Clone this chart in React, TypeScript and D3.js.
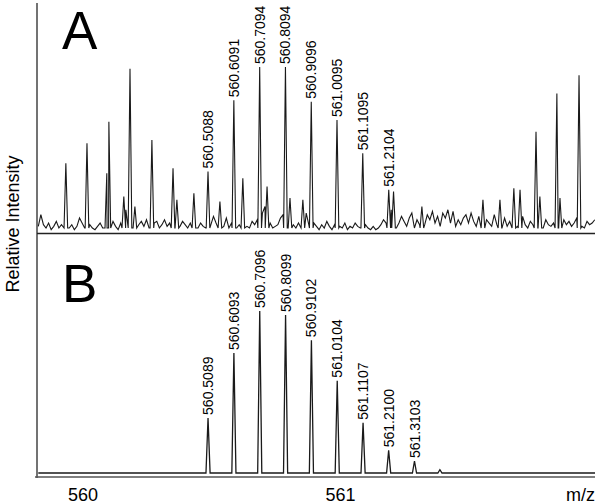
import React from 'react';
import * as d3 from 'd3';

// panel A: measured spectrum, labelled isotope peaks
const labelMzA = [560.5088, 560.6091, 560.7094, 560.8094, 560.9096, 561.0095, 561.1095, 561.2104];
const labelIntA = [37, 80, 100, 100, 79, 68, 48, 26];

// panel A: other (unlabelled) peaks
const otherMzA = [559.957, 560.039, 560.116, 560.124, 560.182, 560.206, 560.225, 560.291, 560.373, 560.388,
  560.454, 560.555, 560.644, 560.738, 560.827, 560.877, 561.229, 561.339, 561.576, 561.642,
  561.696, 561.72, 561.782, 561.797, 561.863, 561.875, 561.949];
const otherIntA = [42, 54, 36, 67, 22, 99, 16, 56, 39, 20,
  24, 19, 33, 28, 21, 20, 25, 16, 20, 20,
  27, 26, 61, 22, 84, 21, 95];

// panel A: baseline noise, one value per 0.01 m/z from 559.85
const noiseStart = 559.85;
const noiseStep = 0.01;
const noiseA = [
  4, 11, 5, 3, 6, 2, 4, 7, 3, 5,
  6, 8, 3, 5, 2, 4, 9, 6, 3, 10,
  5, 3, 2, 4, 6, 3, 5, 18, 22, 7,
  4, 2, 6, 5, 14, 12, 8, 6, 15, 5,
  7, 4, 8, 3, 9, 6, 7, 3, 5, 8,
  4, 6, 3, 12, 6, 4, 7, 5, 3, 6,
  4, 8, 3, 6, 4, 3, 8, 5, 10, 6,
  12, 7, 4, 9, 3, 6, 4, 3, 5, 9,
  6, 4, 3, 7, 5, 8, 4, 12, 16, 8,
  6, 3, 4, 5, 9, 11, 6, 14, 8, 5,
  3, 6, 4, 7, 12, 5, 3, 6, 4, 2,
  5, 3, 7, 4, 2, 5, 8, 4, 3, 6,
  2, 4, 3, 6, 4, 3, 10, 5, 3, 2,
  4, 2, 3, 5, 8, 6, 12, 14, 5, 3,
  6, 10, 7, 4, 9, 12, 3, 8, 5, 16,
  5, 11, 8, 13, 6, 10, 4, 12, 9, 14,
  6, 13, 4, 8, 5, 9, 11, 6, 12, 7,
  4, 10, 5, 3, 8, 6, 4, 11, 5, 14,
  3, 9, 4, 7, 12, 6, 4, 8, 10, 5,
  3, 7, 5, 4, 9, 6, 3, 8, 5, 4,
  6, 10, 4, 3, 8, 5, 7, 4, 6, 9,
  12, 4, 3, 7, 5, 6, 8,
];

// panel B: theoretical isotope pattern
const mzB = [560.5089, 560.6093, 560.7096, 560.8099, 560.9102, 561.0104, 561.1107, 561.21, 561.3103, 561.409];
const intB = [34, 74, 100, 97.5, 82, 57, 31, 14, 7.4, 2];
const labelB = ['560.5089', '560.6093', '560.7096', '560.8099', '560.9102', '561.0104', '561.1107', '561.2100', '561.3103', ''];

const xTicks = [560, 561];

const font = 'Liberation Sans, Arial, sans-serif';

const App = () => {
  const x = d3.scaleLinear().domain([559.845, 562.011]).range([37, 595]);
  const yA = d3.scaleLinear().domain([0, 100]).range([233, 67]);
  const yB = d3.scaleLinear().domain([0, 100]).range([473, 311]);
  const hw = 0.007;

  // build trace for A
  const peaksA = labelMzA.map((m, i) => [m, labelIntA[i]]).concat(otherMzA.map((m, i) => [m, otherIntA[i]]));
  const ptsA: number[][] = [];
  noiseA.forEach((v, i) => {
    const m = noiseStart + i * noiseStep;
    if (!peaksA.some(p => Math.abs(p[0] - m) < hw)) ptsA.push([m, v]);
  });
  peaksA.forEach(p => {
    ptsA.push([p[0] - hw, 3]);
    ptsA.push([p[0], p[1]]);
    ptsA.push([p[0] + hw, 3]);
  });
  ptsA.sort((a, b) => a[0] - b[0]);

  const ptsB: number[][] = [[559.85, 0]];
  mzB.forEach((m, i) => {
    ptsB.push([m - 0.008, 0]);
    ptsB.push([m, intB[i]]);
    ptsB.push([m + 0.008, 0]);
  });
  ptsB.push([562.011, 0]);

  const lineA = d3.line<number[]>().x(d => x(d[0])).y(d => yA(d[1]));
  const lineB = d3.line<number[]>().x(d => x(d[0])).y(d => yB(d[1]));

  return (
    <svg width={600} height={504} style={{ position: 'absolute', left: 0, top: 0, background: '#fff' }}
      fontFamily={font}>
      <rect width={600} height={504} fill="#fff" />
      {/* axes */}
      <line x1={37} x2={37} y1={3} y2={478} stroke="#444" strokeWidth={1.5} />
      <line x1={37} x2={595} y1={233.5} y2={233.5} stroke="#222" strokeWidth={1.5} />
      <line x1={35} x2={595} y1={477} y2={477} stroke="#555" strokeWidth={1.5} />

      <path d={lineA(ptsA) || ''} fill="none" stroke="#1a1a1a" strokeWidth={1.1} />
      <path d={lineB(ptsB) || ''} fill="none" stroke="#1a1a1a" strokeWidth={1.3} />

      {labelMzA.map((m, i) => (
        <text key={'a' + i} transform={`translate(${x(m)},${yA(labelIntA[i]) - 3}) rotate(-90)`}
          dy="0.36em" fontSize={14}>{m.toFixed(4)}</text>
      ))}
      {labelB.map((t, i) => t ? (
        <text key={'b' + i} transform={`translate(${x(mzB[i])},${yB(intB[i]) - 3}) rotate(-90)`}
          dy="0.36em" fontSize={14}>{t}</text>
      ) : null)}

      <text x={62} y={49} fontSize={53}>A</text>
      <text x={62} y={302} fontSize={53}>B</text>

      {xTicks.map(t => (
        <text key={t} x={x(t) + 6} y={501} fontSize={18} textAnchor="middle">{t}</text>
      ))}
      <text x={595} y={501} fontSize={18} textAnchor="end">m/z</text>
      <text transform="translate(13,224) rotate(-90)" dy="0.36em" fontSize={18} textAnchor="middle">Relative Intensity</text>
    </svg>
  );
};

export default App;
